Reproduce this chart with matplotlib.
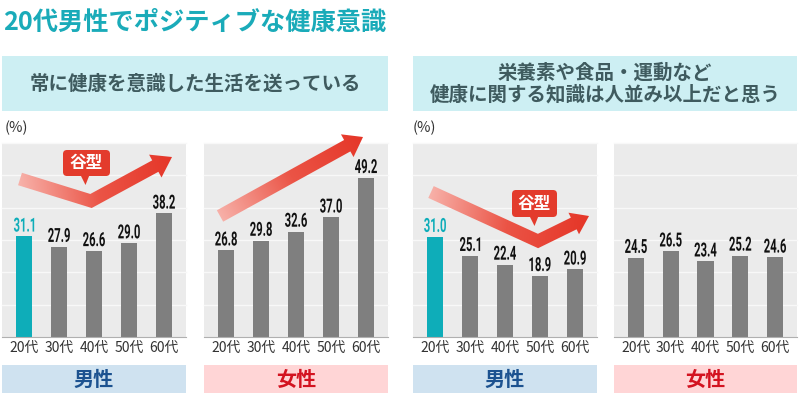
import numpy as np
import matplotlib.pyplot as plt
from matplotlib.patches import Polygon, FancyBboxPatch, Rectangle, PathPatch
from matplotlib.colors import LinearSegmentedColormap
from matplotlib.textpath import TextPath
from matplotlib.font_manager import FontProperties
from matplotlib.transforms import Affine2D, ScaledTranslation

plt.rcParams['font.family'] = ['Noto Sans CJK JP', 'DejaVu Sans']

# data
categories = ['20代', '30代', '40代', '50代', '60代']
q1_male = [31.1, 27.9, 26.6, 29.0, 38.2]
q1_female = [26.8, 29.8, 32.6, 37.0, 49.2]
q2_male = [31.0, 25.1, 22.4, 18.9, 20.9]
q2_female = [24.5, 26.5, 23.4, 25.2, 24.6]

title = '20代男性でポジティブな健康意識'
q1_title = '常に健康を意識した生活を送っている'
q2_title = '栄養素や食品・運動など\n健康に関する知識は人並み以上だと思う'

TEAL = '#0eadb9'
GRAY = '#7f7f7f'
NUM_PROP = FontProperties(family='Roboto', weight='bold')

W, H = 800, 395
fig = plt.figure(figsize=(8, 3.95), dpi=100)


def px_axes(x0, y0, x1, y1, **kw):
    return fig.add_axes([x0 / W, 1 - y1 / H, (x1 - x0) / W, (y1 - y0) / H], **kw)


def narrow_label(ax, x, y, s, color, size=14, sx=0.58, lift=3.5):
    # condensed bold number drawn as a path, anchored at the bar top
    tp = TextPath((0, 0), s, size=size, prop=NUM_PROP)
    ext = tp.get_extents()
    cx = (ext.x0 + ext.x1) / 2
    tr = (Affine2D().translate(-cx, 0).scale(sx, 1).translate(0, lift).scale(1 / 72)
          + fig.dpi_scale_trans + ScaledTranslation(x, y, ax.transData))
    ax.add_patch(PathPatch(tp, transform=tr, fc=color, ec='none', clip_on=False, zorder=4))


def bar_panel(x0, x1, vals, highlight):
    ax = px_axes(x0, 143, x1, 337)
    ax.set_facecolor('#ebebeb')
    x = np.arange(len(categories))
    colors = [TEAL if (highlight and i == 0) else GRAY for i in x]
    ax.bar(x, vals, width=0.46, color=colors, zorder=2)
    for yy in range(10, 61, 10):
        ax.axhline(yy, color='#f8f8f8', lw=1, zorder=1, clip_on=False)
    ax.set_xlim(-0.63, 4.63)
    ax.set_ylim(0, 60)
    for s in ['top', 'left', 'right']:
        ax.spines[s].set_visible(False)
    ax.spines['bottom'].set_color('#b0b0b0')
    ax.set_yticks([])
    ax.set_xticks(x, categories, fontsize=10, color='#333333')
    ax.tick_params(axis='x', length=0, pad=3)
    for xi, v, c in zip(x, vals, colors):
        narrow_label(ax, xi, v, f'{v:.1f}', TEAL if c == TEAL else '#111111')
    return ax


bar_panel(2, 186, q1_male, True)
bar_panel(204, 388, q1_female, False)
bar_panel(413, 597, q2_male, True)
bar_panel(614, 797, q2_female, False)

# overlay in pixel coordinates for decorations
ov = fig.add_axes([0, 0, 1, 1], zorder=10)
ov.set_xlim(0, W)
ov.set_ylim(H, 0)
ov.axis('off')
ov.patch.set_alpha(0)

ov.text(3, 22, title, fontsize=18.2, fontweight='bold', color='#1aabb9', va='center', ha='left')

for (bx0, bx1), txt in [((2, 388), q1_title), ((413, 797), q2_title)]:
    ov.add_patch(Rectangle((bx0, 56), bx1 - bx0, 55, color='#cdeff3', lw=0))
    ov.text((bx0 + bx1) / 2, 84, txt, ha='center', va='center', fontsize=14,
            fontweight='bold', color='#3f5b5f', linespacing=1.15)

for xx in [5, 413]:
    ov.text(xx, 128, '(%)', fontsize=10.5, color='#333333', va='center', ha='left')

bands = [((2, 186), '男性', '#cfe2f0', '#1c5290'),
         ((204, 388), '女性', '#ffd5d6', '#d31320'),
         ((413, 597), '男性', '#cfe2f0', '#1c5290'),
         ((614, 797), '女性', '#ffd5d6', '#d31320')]
for (bx0, bx1), txt, bg, fg in bands:
    ov.add_patch(Rectangle((bx0, 365), bx1 - bx0, 28, color=bg, lw=0))
    ov.text((bx0 + bx1) / 2, 379, txt, ha='center', va='center', fontsize=14.5,
            fontweight='bold', color=fg)

# gradient arrows
cmap = LinearSegmentedColormap.from_list('arr', ['#f7b0a8', '#eb5446', '#e53628'])
gy, gx = np.mgrid[0:H, 0:W] + 0.5


def unit(v):
    return v / np.hypot(*v)


def perp(d):
    return np.array([d[1], -d[0]])


def grad_arrow(pts, hw=6.5, head_hw=13.0, head_len=18.0):
    pts = np.array(pts, float)
    tip = pts[-1]
    u = unit(tip - pts[-2])
    s = tip - head_len * u
    shaft = np.vstack([pts[:-1], s])
    left, right = [], []
    for i in range(len(shaft)):
        if i == 0:
            off = perp(unit(shaft[1] - shaft[0])) * hw
        elif i == len(shaft) - 1:
            off = perp(unit(shaft[i] - shaft[i - 1])) * hw
        else:
            n1 = perp(unit(shaft[i] - shaft[i - 1]))
            n2 = perp(unit(shaft[i + 1] - shaft[i]))
            m = unit(n1 + n2)
            off = m * hw / np.dot(m, n1)
        left.append(shaft[i] + off)
        right.append(shaft[i] - off)
    ne = perp(u)
    poly = left + [s + ne * head_hw, tip, s - ne * head_hw] + right[::-1]
    d = tip - pts[0]
    t = np.clip(((gx - pts[0][0]) * d[0] + (gy - pts[0][1]) * d[1]) / np.dot(d, d), 0, 1)
    img = ov.imshow(t, cmap=cmap, extent=(0, W, H, 0), origin='upper', aspect='auto',
                    vmin=0, vmax=1, zorder=5, interpolation='bilinear')
    patch = Polygon(poly, closed=True, transform=ov.transData, facecolor='none', edgecolor='none')
    ov.add_patch(patch)
    img.set_clip_path(patch)


grad_arrow([(20, 179), (91, 201), (172, 157)], head_len=19)
grad_arrow([(220, 216), (363, 137)], head_len=18)
grad_arrow([(431, 192), (538, 241), (589, 216)], head_hw=12, head_len=17)
ov.set_xlim(0, W)
ov.set_ylim(H, 0)


def callout(x0, y0, x1, y1, px):
    ov.add_patch(FancyBboxPatch((x0, y0), x1 - x0, y1 - y0, boxstyle='round,pad=0,rounding_size=4',
                                fc='#e33b2c', ec='none', zorder=7))
    ov.add_patch(Polygon([(px - 4.5, y1 - 1), (px + 4.5, y1 - 1), (px + 0.5, y1 + 9)],
                         closed=True, fc='#e33b2c', ec='none', zorder=7))
    ov.text((x0 + x1) / 2, (y0 + y1) / 2, '谷型', ha='center', va='center', fontsize=12,
            fontweight='bold', color='white', zorder=8)


callout(63, 150, 110, 176, 85)
callout(512, 190, 557, 217, 534)

fig.savefig('out.png', dpi=100)
